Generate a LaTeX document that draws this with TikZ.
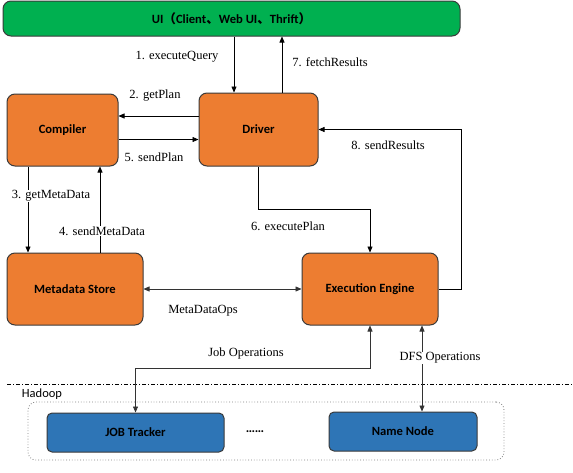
\documentclass[tikz,border=0pt]{standalone}
\usepackage{fontspec}
\setmainfont{Liberation Serif}
\newfontfamily\carfont{Carlito}
\newfontfamily\cjkfont{Noto Sans CJK SC}
\usetikzlibrary{arrows.meta}
\definecolor{oran}{HTML}{ED7D31}
\definecolor{grn}{HTML}{00B050}
\definecolor{blu}{HTML}{2E75B6}
\definecolor{bord}{HTML}{3A3A3A}
\tikzset{
  box/.style={draw=bord, line width=1pt, rounded corners=8pt, font=\carfont\bfseries\fontsize{12.6}{14}\selectfont, text=black, inner sep=0pt},
  obox/.style={box, fill=oran},
  gbox/.style={box, fill=grn},
  bbox/.style={box, fill=blu, rounded corners=5pt},
  arr/.style={line width=0.7pt, draw=black, -{Triangle[length=6pt,width=5pt]}},
  darr/.style={line width=0.7pt, draw=black!80, {Triangle[length=6pt,width=5pt]}-{Triangle[length=6pt,width=5pt]}},
  lbl/.style={font=\fontsize{12.5}{14}\selectfont, inner sep=1pt},
  wlbl/.style={lbl, fill=white},
}
\begin{document}
\begin{tikzpicture}[x=1pt,y=-1pt]
\useasboundingbox (0,0) rectangle (573,472);
% nodes
\node[gbox, minimum width=457pt, minimum height=35pt] (ui) at (231.5,18.5) {UI{\cjkfont\bfseries （}Client{\cjkfont\bfseries 、}Web UI{\cjkfont\bfseries 、}Thrift{\cjkfont\bfseries ）}};
\node[obox, minimum width=111pt, minimum height=72pt] (comp) at (62.5,130) {Compiler};
\node[obox, minimum width=119pt, minimum height=73pt] (drv) at (258.5,129.5) {Driver};
\node[obox, minimum width=136pt, minimum height=72pt] (meta) at (75,289) {Metadata Store};
\node[obox, minimum width=136pt, minimum height=72pt] (exec) at (370,289) {Execution Engine};
\node[draw=gray, dotted, line width=0.8pt, rounded corners=8pt, minimum width=476pt, minimum height=58pt, inner sep=0pt] (had) at (266,431) {};
\node[bbox, minimum width=177pt, minimum height=39pt] (jt) at (135.5,432.5) {JOB Tracker};
\node[bbox, minimum width=148pt, minimum height=39pt] (nn) at (403,431.5) {Name Node};
\node[font=\carfont\fontsize{12.5}{14}\selectfont, inner sep=0pt] (hl) at (42,394) {Hadoop};
\node[font=\carfont\bfseries\fontsize{13}{14}\selectfont, inner sep=0pt] (dots) at (255,432) {……};
% separator
\coordinate (s1) at (7,384);
\coordinate (s2) at (573,384);
\draw[line width=0.8pt, dash pattern=on 4pt off 2pt on 1pt off 2pt] (s1) -- (s2);
% connectors
\coordinate (a1) at ([xshift=-24.5pt]drv.north);
\draw[arr] (a1 |- ui.south) -- (a1);
\coordinate (a7) at ([xshift=23.5pt]drv.north);
\draw[arr] (a7) -- (a7 |- ui.south);
\coordinate (a2) at ([yshift=13.5pt]drv.west);
\draw[arr] (a2) -- (a2 -| comp.east);
\coordinate (a5) at ([yshift=-9.5pt]comp.east);
\draw[arr] (a5) -- (a5 -| drv.west);
\coordinate (a3) at ([xshift=-34.5pt]comp.south);
\draw[arr] (a3) -- (a3 |- meta.north);
\coordinate (a4) at ([xshift=37.5pt]comp.south);
\draw[arr] (a4 |- meta.north) -- (a4);
\coordinate (k6) at (0,209);
\draw[arr] (drv.south) -- (drv.south |- k6) -| (exec.north);
\coordinate (k8) at (461,0);
\draw[arr] (exec.east) -| (k8 |- drv.east) -- (drv.east);
\draw[darr] (meta.east) -- (exec.west);
\coordinate (k9) at (0,368);
\draw[darr] (exec.south) -- (exec.south |- k9) -| (jt.north);
\coordinate (a10) at ([xshift=52pt]exec.south);
\draw[darr] (a10) -- (a10 |- nn.north);
% labels
\node[lbl] (l1) at (177,57) {1. executeQuery};
\node[lbl] (l7) at (330,62) {7. fetchResults};
\node[lbl] (l2) at (155,96) {2. getPlan};
\node[lbl] (l5) at (154,157) {5. sendPlan};
\node[wlbl] (l3) at (51,196) {3. getMetaData};
\node[wlbl] (l4) at (102,231) {4. sendMetaData};
\node[lbl] (l6) at (288,226) {6. executePlan};
\node[lbl] (l8) at (388,145) {8. sendResults};
\node[lbl] (lm) at (203,311) {MetaDataOps};
\node[lbl] (lj) at (246,353) {Job Operations};
\node[wlbl] (ld) at (440,358) {DFS Operations};
\end{tikzpicture}
\end{document}
